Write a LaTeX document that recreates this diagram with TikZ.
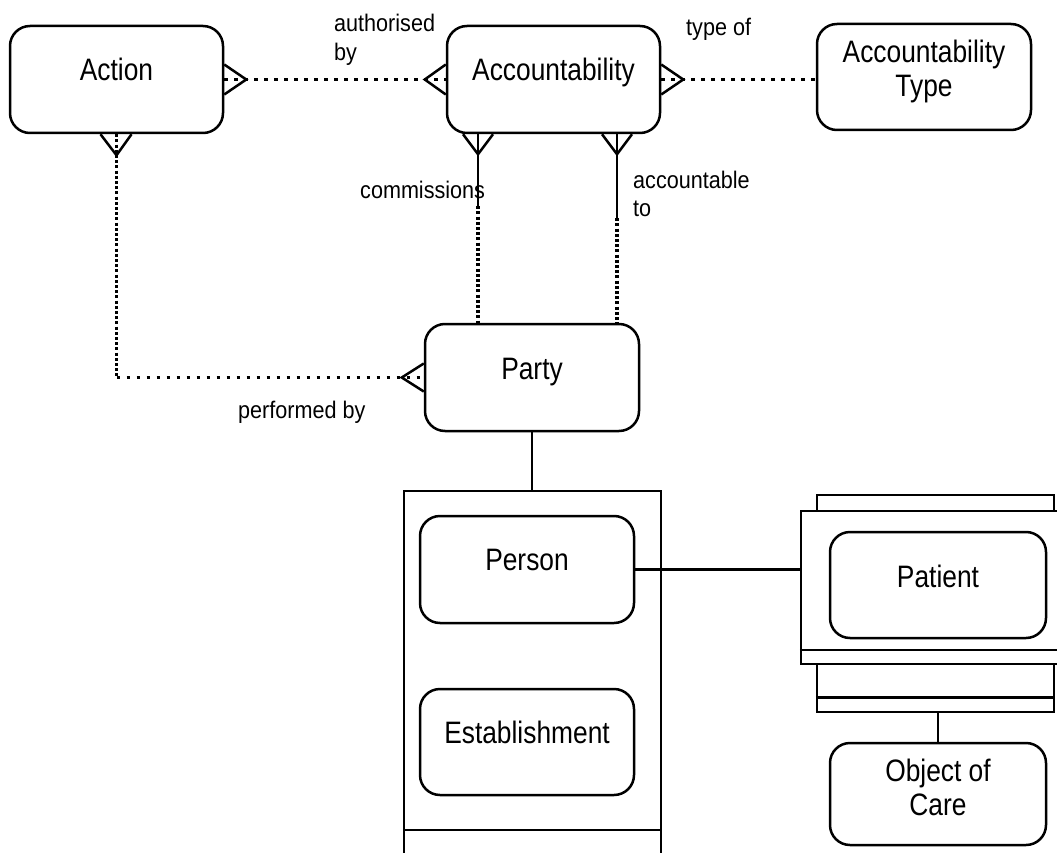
\documentclass[tikz,border=0pt]{standalone}
\usepackage{fontspec}
\setmainfont{Liberation Sans}
\newfontfamily\entfont[FakeStretch=0.85]{Liberation Sans}
\newfontfamily\lblfont[FakeStretch=0.9]{Liberation Sans}
\usetikzlibrary{calc}
\tikzset{
  ent/.style={draw, line width=2.5pt, rounded corners=20pt, minimum width=213pt, minimum height=107pt, inner sep=0pt, fill=white},
  cbox/.style={draw, line width=2.5pt, fill=white, inner sep=0pt},
  hdots/.style={line width=3.6pt, dash pattern=on 3.6pt off 6.4pt},
  vdots/.style={line width=3.6pt, dash pattern=on 3pt off 2.2pt},
  rel/.style={line width=2.5pt},
  foot/.style={line width=2.5pt, line join=miter},
  enttext/.style={font=\entfont\fontsize{31}{34}\selectfont, inner sep=0pt, align=center},
  lbl/.style={font=\lblfont\fontsize{24}{28.5}\selectfont, inner sep=0pt, align=left},
}
\begin{document}
\begin{tikzpicture}[x=1pt,y=-1pt]
\useasboundingbox (0,0) rectangle (1057,853);
\clip (0,0) rectangle (1057,853);
\fill[white] (0,0) rectangle (1057,853);

% containers
\node[cbox, minimum width=257pt, minimum height=418pt] (big) at (532.5,700) {};
\draw[rel] ([yshift=-340pt]big.north west) -- ([yshift=-340pt]big.north east);
\node[cbox, minimum width=237pt, minimum height=217pt] (back) at (935.5,603.5) {};
\draw[rel] ([yshift=16pt]back.south west) -- ([yshift=16pt]back.south east);
\node[cbox, minimum width=270pt, minimum height=153pt] (front) at (936,587.5) {};
\draw[rel] ([yshift=-140pt]front.north west) -- ([yshift=-140pt]front.north east);

% entities
\node[ent] (action) at (116.5,79.5) {};
\node[ent] (acc) at (553.5,79.5) {};
\node[ent, minimum width=214pt, minimum height=106pt] (acctype) at (924,77) {};
\node[ent, minimum width=214pt] (party) at (532,377.5) {};
\node[ent, minimum width=214pt] (person) at (527,569.5) {};
\node[ent, minimum width=214pt, minimum height=106pt] (estab) at (527,742) {};
\node[ent, minimum width=216pt, minimum height=106pt] (patient) at (938,585) {};
\node[ent, minimum width=216pt, minimum height=102pt] (ooc) at (938,794) {};

% entity texts
\node[enttext, anchor=base] (actiont) at ([yshift=-1.5pt]action.center) {Action};
\node[enttext, anchor=base] (acct) at ([yshift=-1.5pt]acc.center) {Accountability};
\node[enttext] (acctypet) at ([yshift=6pt]acctype.center) {Accountability\\Type};
\node[enttext, anchor=base] (partyt) at ([yshift=-1.5pt]party.center) {Party};
\node[enttext, anchor=base] (persont) at ([yshift=-1pt]person.center) {Person};
\node[enttext, anchor=base] (estabt) at ([yshift=-1pt]estab.center) {Establishment};
\node[enttext, anchor=base] (patientt) at ([yshift=-2pt]patient.center) {Patient};
\node[enttext] (ooct) at ([yshift=7pt]ooc.center) {Object of\\Care};

% authorised by
\draw[hdots] (action.east) -- (acc.west);
\draw[foot] ([yshift=15pt]action.east) -- ([xshift=22pt]action.east) -- ([yshift=-15pt]action.east);
\draw[foot] ([yshift=15pt]acc.west) -- ([xshift=-21pt]acc.west) -- ([yshift=-15pt]acc.west);

% type of
\draw[hdots] (acc.east) -- (acc.east -| acctype.west);
\draw[foot] ([yshift=15pt]acc.east) -- ([xshift=22pt]acc.east) -- ([yshift=-15pt]acc.east);

% commissions / accountable to
\coordinate (c1) at ($(acc.south)+(-75.5,0)$);
\coordinate (c1m) at ($(c1)+(0,72)$);
\coordinate (c2) at ($(acc.south)+(63.5,0)$);
\coordinate (c2m) at ($(c2)+(0,84)$);
\draw[rel] (c1) -- (c1m);
\draw[vdots] (c1m) -- (c1m |- party.north);
\draw[rel] (c2) -- (c2m);
\draw[vdots] (c2m) -- (c2m |- party.north);
\draw[foot] ([xshift=-15pt]c1) -- ([yshift=-20pt]c1) -- ([xshift=15pt]c1);
\draw[foot] ([xshift=-15pt]c2) -- ([yshift=-20pt]c2) -- ([xshift=15pt]c2);

% performed by
\coordinate (pb) at (action.south |- party.west);
\draw[vdots] (action.south) -- (pb);
\draw[hdots] (pb) -- (party.west);
\draw[foot] ([xshift=-16pt]action.south) -- ([yshift=-21pt]action.south) -- ([xshift=15pt]action.south);
\draw[foot] ([yshift=14pt]party.west) -- ([xshift=-22pt]party.west) -- ([yshift=-14pt]party.west);

% structural lines
\draw[rel] (party.south) -- (party.south |- big.north);
\draw[rel] (person.east) -- (person.east -| front.west);
\draw[rel] (ooc.north) -- (ooc.north |- back.south);

% labels
\node[lbl, anchor=west] (lauth) at (334,40) {authorised\\by};
\node[lbl, anchor=base west] (ltype) at (686,36) {type of};
\node[lbl, anchor=base west] (lcomm) at (360,199) {commissions};
\node[lbl, anchor=west] (lacct) at (633,194) {accountable\\to};
\node[lbl, anchor=base west] (lperf) at (238,418) {performed by};
\end{tikzpicture}
\end{document}
